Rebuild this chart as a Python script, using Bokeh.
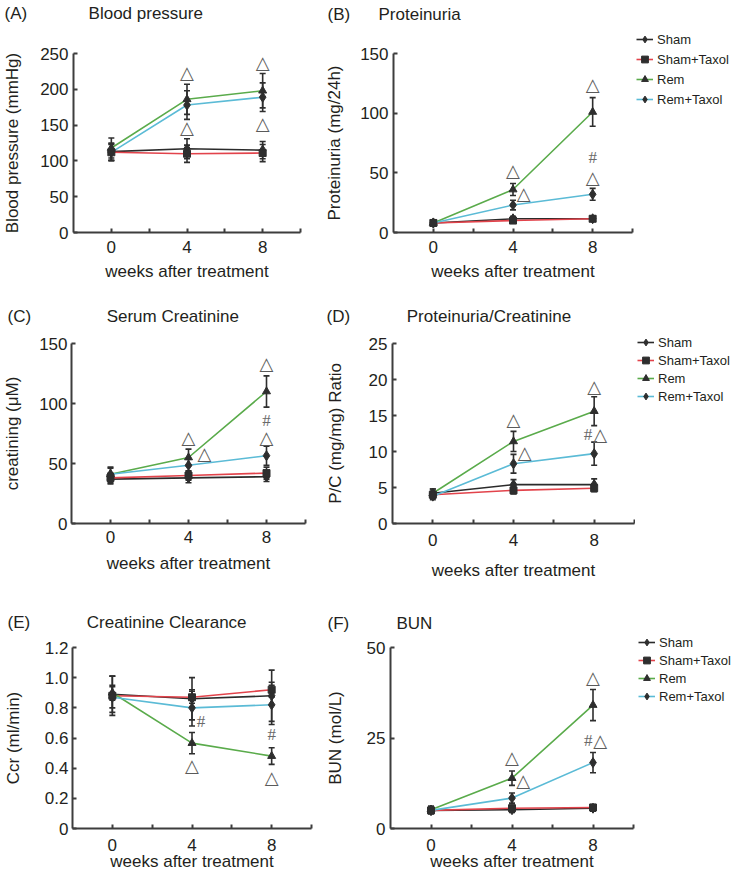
from bokeh.plotting import figure
from bokeh.models import (Range1d, FixedTicker, Title, Legend, LegendItem,
                          CustomJSTickFormatter, ColumnDataSource)
from bokeh.layouts import row, column
from bokeh.embed import file_html
from bokeh.resources import INLINE
from bokeh.core.properties import value

# ---------------- data ----------------
weeks = [0, 4, 8]
series = ["Sham", "Sham+Taxol", "Rem", "Rem+Taxol"]
x_ticks = [0, 4, 8]
x_minor_ticks = [2, 6, 10]

# (A) Blood pressure (mmHg)
bp_sham = [113, 117, 115];   bp_sham_se = [12, 14, 12]
bp_shamtx = [112, 110, 111]; bp_shamtx_se = [11, 12, 12]
bp_rem = [118, 186, 198];    bp_rem_se = [14, 21, 24]
bp_remtx = [112, 178, 189];  bp_remtx_se = [12, 20, 20]
bp_ticks = [0, 50, 100, 150, 200, 250]
bp_sig_x = [4, 4, 8, 8]
bp_sig_y = [223, 147, 237, 152]
bp_sig_t = ["△", "△", "△", "△"]

# (B) Proteinuria (mg/24h)
pu_sham = [8, 11.5, 11.5];  pu_sham_se = [2, 2, 2]
pu_shamtx = [8, 10, 11.5];  pu_shamtx_se = [2, 2, 2]
pu_rem = [8, 36, 101];      pu_rem_se = [2, 5, 12]
pu_remtx = [8, 23, 32];     pu_remtx_se = [2, 4, 5]
pu_ticks = [0, 50, 100, 150]
pu_sig_x = [4, 4.53, 8, 8, 8]
pu_sig_y = [52, 33, 124, 63, 46]
pu_sig_t = ["△", "△", "△", "#", "△"]

# (C) Serum creatinine (uM)
sc_sham = [37, 38, 39];      sc_sham_se = [4, 4, 4]
sc_shamtx = [38, 40, 42];    sc_shamtx_se = [4, 4, 5]
sc_rem = [41, 55, 110];      sc_rem_se = [6, 7, 13]
sc_remtx = [41, 48.5, 56.5]; sc_remtx_se = [5, 5, 8]
sc_ticks = [0, 50, 100, 150]
sc_sig_x = [4, 4.82, 8, 8, 8]
sc_sig_y = [72, 58, 133, 85.5, 72]
sc_sig_t = ["△", "△", "△", "#", "△"]

# (D) Proteinuria / creatinine ratio
pc_sham = [4.2, 5.4, 5.4];   pc_sham_se = [0.6, 0.7, 0.8]
pc_shamtx = [4.0, 4.6, 4.9]; pc_shamtx_se = [0.5, 0.5, 0.5]
pc_rem = [4.2, 11.4, 15.6];  pc_rem_se = [0.6, 1.4, 2.0]
pc_remtx = [3.8, 8.3, 9.7];  pc_remtx_se = [0.5, 1.3, 1.6]
pc_ticks = [0, 5, 10, 15, 20, 25]
pc_sig_x = [4, 4.55, 8, 7.7, 8.3]
pc_sig_y = [14.4, 9.9, 19.0, 12.3, 12.3]
pc_sig_t = ["△", "△", "△", "#", "△"]

# (E) Creatinine clearance (ml/min)
cc_sham = [0.89, 0.86, 0.88];  cc_sham_se = [0.12, 0.14, 0.17]
cc_shamtx = [0.88, 0.87, 0.92]; cc_shamtx_se = [0.13, 0.04, 0.05]
cc_rem = [0.90, 0.566, 0.48];  cc_rem_se = [0.05, 0.07, 0.055]
cc_remtx = [0.87, 0.80, 0.82]; cc_remtx_se = [0.07, 0.12, 0.13]
cc_ticks = [0, 0.2, 0.4, 0.6, 0.8, 1.0, 1.2]
cc_sig_x = [4, 4.45, 8, 8]
cc_sig_y = [0.415, 0.71, 0.625, 0.338]
cc_sig_t = ["△", "#", "#", "△"]

# (F) BUN (mol/L)
bun_sham = [5.0, 5.2, 5.6];   bun_sham_se = [0.8, 0.8, 0.8]
bun_shamtx = [5.0, 5.6, 5.8]; bun_shamtx_se = [0.8, 0.8, 0.8]
bun_rem = [5.2, 13.9, 34.1];  bun_rem_se = [1.0, 2.0, 4.3]
bun_remtx = [5.0, 8.4, 18.2]; bun_remtx_se = [1.0, 1.4, 2.8]
bun_ticks = [0, 25, 50]
bun_sig_x = [4, 4.55, 8, 7.77, 8.36]
bun_sig_y = [19.6, 13.2, 41.7, 24.2, 24.2]
bun_sig_t = ["△", "△", "△", "#", "△"]

# ---------------- style ----------------
FONT = "Liberation Sans"
TXT = "#231f20"
AXC = "#3d3d3d"
MK = "#2e2e2e"
SIG = "#5a5a5a"
LINE_COLORS = ["#2b2b2b", "#e2434b", "#5aab4b", "#5bbbd6"]
MARKERS = ["diamond", "square", "triangle", "diamond"]
MSIZE = [10, 7, 8, 10]
XR = (-2, 10)
NB = "\u00a0"
LEG_X0 = 635
TOTAL_W = 733

panels = [
    dict(key="A", title="Blood pressure", ylabel="Blood pressure (mmHg)", gap=13,
         vals=[bp_sham, bp_shamtx, bp_rem, bp_remtx],
         errs=[bp_sham_se, bp_shamtx_se, bp_rem_se, bp_remtx_se],
         ticks=bp_ticks, yr=(0, 250), sig=(bp_sig_x, bp_sig_y, bp_sig_t),
         fig=(0, 0, 322, 300), frame=(70, 300, 53, 232),
         t_start=1, spacer=28,
         ylso=15, ymls=5, xmls=8, xlso=6, legend=None),
    dict(key="B", title="Proteinuria", ylabel="Proteinuria (mg/24h)", gap=6,
         vals=[pu_sham, pu_shamtx, pu_rem, pu_remtx],
         errs=[pu_sham_se, pu_shamtx_se, pu_rem_se, pu_remtx_se],
         ticks=pu_ticks, yr=(0, 150), sig=(pu_sig_x, pu_sig_y, pu_sig_t),
         fig=(322, 0, LEG_X0 - 322, 300), frame=(392, 632, 52, 232),
         t_start=326, spacer=27,
         ylso=13, ymls=5, xmls=8, xlso=6, legend=(636, 29, 20)),
    dict(key="C", title="Serum Creatinine", ylabel="creatining (μM)", gap=16,
         vals=[sc_sham, sc_shamtx, sc_rem, sc_remtx],
         errs=[sc_sham_se, sc_shamtx_se, sc_rem_se, sc_remtx_se],
         ticks=sc_ticks, yr=(0, 150), sig=(sc_sig_x, sc_sig_y, sc_sig_t),
         fig=(0, 300, 322, 300), frame=(67, 305, 343, 523),
         t_start=3, spacer=15,
         ylso=14, ymls=4, xmls=7, xlso=8, legend=None),
    dict(key="D", title="Proteinuria/Creatinine", ylabel="P/C (mg/mg) Ratio", gap=12,
         vals=[pc_sham, pc_shamtx, pc_rem, pc_remtx],
         errs=[pc_sham_se, pc_shamtx_se, pc_rem_se, pc_remtx_se],
         ticks=pc_ticks, yr=(0, 25), sig=(pc_sig_x, pc_sig_y, pc_sig_t),
         fig=(322, 300, LEG_X0 - 322, 300), frame=(391, 634, 343, 524),
         t_start=325, spacer=15,
         ylso=21, ymls=5, xmls=10, xlso=12, legend=(637, 333, 18)),
    dict(key="E", title="Creatinine Clearance", ylabel="Ccr (ml/min)", gap=12,
         vals=[cc_sham, cc_shamtx, cc_rem, cc_remtx],
         errs=[cc_sham_se, cc_shamtx_se, cc_rem_se, cc_remtx_se],
         ticks=cc_ticks, yr=(0, 1.2), sig=(cc_sig_x, cc_sig_y, cc_sig_t),
         fig=(0, 600, 322, 277), frame=(68, 311, 647, 828),
         t_start=3, spacer=13,
         ylso=19, ymls=4, xmls=10, xlso=-2, legend=None),
    dict(key="F", title="BUN", ylabel="BUN (mol/L)", gap=10,
         vals=[bun_sham, bun_shamtx, bun_rem, bun_remtx],
         errs=[bun_sham_se, bun_shamtx_se, bun_rem_se, bun_remtx_se],
         ticks=bun_ticks, yr=(0, 50), sig=(bun_sig_x, bun_sig_y, bun_sig_t),
         fig=(322, 600, LEG_X0 - 322, 277), frame=(389, 633, 647, 828),
         t_start=326, spacer=12,
         ylso=19, ymls=5, xmls=10, xlso=-2, legend=(638, 633, 18)),
]


def make_panel(g):
    fx, fy, fw, fh = g["fig"]
    L, R, T, B = g["frame"]
    p = figure(width=fw, height=fh, x_range=Range1d(*XR), y_range=Range1d(*g["yr"]),
               output_backend="svg", toolbar_location=None, min_border=0,
               min_border_left=L - fx, min_border_right=fx + fw - R,
               min_border_top=T - fy, min_border_bottom=fy + fh - B)
    p.outline_line_color = None
    p.xgrid.visible = False
    p.ygrid.visible = False
    p.background_fill_color = "white"
    p.border_fill_color = "white"

    # spacer (closest to the frame), then the title line: letter + name
    p.add_layout(Title(text=NB, text_font_size="1px", standoff=g["spacer"],
                       text_color="white"), "above")
    p.add_layout(Title(text=f"({g['key']})" + NB * g["gap"] + g["title"],
                       align="left", offset=g["t_start"] - L, standoff=0,
                       text_font=FONT, text_font_size="17px",
                       text_font_style="normal", text_color=TXT), "above")

    # axes
    p.xaxis.ticker = FixedTicker(ticks=x_ticks, minor_ticks=x_minor_ticks)
    p.yaxis.ticker = FixedTicker(ticks=g["ticks"])
    if g["key"] == "E":
        p.yaxis.formatter = CustomJSTickFormatter(
            code="return tick == 0 ? '0' : tick.toFixed(1);")
    for ax in (p.xaxis[0], p.yaxis[0]):
        ax.axis_line_color = AXC
        ax.axis_line_width = 2
        ax.major_tick_line_color = AXC
        ax.major_tick_line_width = 2
        ax.major_tick_in = 4
        ax.major_tick_out = 0
        ax.minor_tick_line_color = AXC
        ax.minor_tick_line_width = 2
        ax.minor_tick_in = 4
        ax.minor_tick_out = 0
        ax.major_label_text_font = FONT
        ax.major_label_text_font_size = "17px"
        ax.major_label_text_color = TXT
        ax.axis_label_text_font = FONT
        ax.axis_label_text_font_size = "17px"
        ax.axis_label_text_font_style = "normal"
        ax.axis_label_text_color = TXT
    p.yaxis.minor_tick_line_color = None
    p.xaxis.axis_label = "weeks after treatment"
    p.yaxis.axis_label = g["ylabel"]
    p.yaxis.major_label_standoff = g["ymls"]
    p.yaxis.axis_label_standoff = g["ylso"]
    p.xaxis.major_label_standoff = g["xmls"]
    p.xaxis.axis_label_standoff = g["xlso"]

    # lines
    for i, name in enumerate(series):
        p.line(weeks, g["vals"][i], line_color=LINE_COLORS[i], line_width=1.6)
    # error bars
    for i, name in enumerate(series):
        v = g["vals"][i]
        e = g["errs"][i]
        lo = [a - b for a, b in zip(v, e)]
        hi = [a + b for a, b in zip(v, e)]
        p.segment(weeks, lo, weeks, hi, line_color=MK, line_width=1.6)
        p.scatter(weeks + weeks, lo + hi, marker="dash", size=6,
                  line_color=MK, line_width=1.6)
    # markers
    for i, name in enumerate(series):
        p.scatter(weeks, g["vals"][i], marker=MARKERS[i], size=MSIZE[i],
                  fill_color=MK, line_color=MK)

    # significance marks
    sx, sy, st = g["sig"]
    tri = ColumnDataSource(dict(x=[a for a, t in zip(sx, st) if t == "△"],
                                y=[b for b, t in zip(sy, st) if t == "△"],
                                t=[t for t in st if t == "△"]))
    hsh = ColumnDataSource(dict(x=[a for a, t in zip(sx, st) if t == "#"],
                                y=[b for b, t in zip(sy, st) if t == "#"],
                                t=[t for t in st if t == "#"]))
    p.text("x", "y", text="t", source=tri, text_font=value("DejaVu Sans"),
           text_font_size="18px", text_color=SIG, text_align="center",
           text_baseline="middle")
    p.text("x", "y", text="t", source=hsh, text_font=value("Liberation Serif"),
           text_font_size="17px", text_color="#6a6a6a", text_align="center",
           text_baseline="middle")
    return p


def make_legend_fig(g):
    fx, fy, fw, fh = g["fig"]
    gx, gtop, rowh = g["legend"]
    w = TOTAL_W - LEG_X0
    # legend proxies: the series drawn outside this figure's visible range
    lf = figure(width=w, height=fh, x_range=Range1d(-3, -2), y_range=Range1d(-3, -2),
                output_backend="svg", toolbar_location=None, min_border=0,
                x_axis_location=None, y_axis_location=None)
    lf.outline_line_color = None
    lf.grid.visible = False
    lf.background_fill_color = "white"
    lf.border_fill_color = "white"
    items = []
    for i, name in enumerate(series):
        lr = lf.line(weeks, g["vals"][i], line_color=LINE_COLORS[i], line_width=1.6)
        mr = lf.scatter(weeks, g["vals"][i], marker=MARKERS[i],
                        fill_color=MK, line_color=MK)
        items.append(LegendItem(label=name, renderers=[lr, mr]))
    hgt = rowh * len(series)
    leg = Legend(items=items, location=(gx - LEG_X0, fh - (gtop - fy) - hgt),
                 label_text_font=FONT, label_text_font_size="13px",
                 label_text_color=TXT, glyph_width=17,
                 glyph_height=rowh, label_height=rowh,
                 spacing=0, padding=0, margin=0, label_standoff=4,
                 border_line_color=None, background_fill_alpha=0)
    lf.add_layout(leg, "center")
    return lf


plot_rows = []
legend_figs = []
for k in range(3):
    gl, gr = panels[2 * k], panels[2 * k + 1]
    plot_rows.append(row(make_panel(gl), make_panel(gr)))
    legend_figs.append(make_legend_fig(gr))
layout = row(column(*plot_rows), column(*legend_figs))

open("out.html", "w").write(file_html(layout, INLINE))
